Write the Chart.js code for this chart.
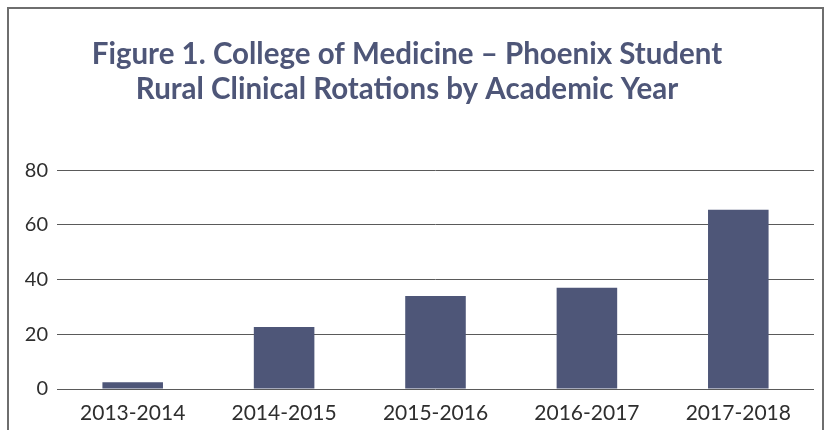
<!DOCTYPE html>
<html>
<head>
<meta charset="utf-8">
<script src="https://cdn.jsdelivr.net/npm/chart.js@4/dist/chart.umd.min.js"></script>
<style>
  html, body { margin: 0; padding: 0; background: #fff; overflow: hidden; }
  #wrap { position: relative; width: 833px; height: 430px; }
  #frame {
    position: absolute; left: 7px; top: 7px; width: 817px; height: 500px;
    border: 2px solid #6e6e6e; border-bottom: none; box-sizing: border-box;
  }
  canvas { position: absolute; left: 0; top: 0; }
</style>
</head>
<body>
<div id="wrap">
  <div id="frame"></div>
  <canvas id="chart" width="833" height="430"></canvas>
</div>
<script>
// === Data ===
const years = ["2013-2014", "2014-2015", "2015-2016", "2016-2017", "2017-2018"];
const rotations = [2.5, 22.7, 34, 37, 65.5];
const yTicks = [0, 20, 40, 60, 80];
const titleLines = ["Figure 1. College of Medicine \u2013 Phoenix Student", "Rural Clinical Rotations by Academic Year"];

const barColor = "#4e5678";
const textColor = "#2e2e2e";

const ctx = document.getElementById("chart").getContext("2d");
new Chart(ctx, {
  type: "bar",
  data: {
    labels: years,
    datasets: [{
      data: rotations,
      backgroundColor: barColor,
      borderWidth: 0,
      categoryPercentage: 1,
      barPercentage: 0.4
    }]
  },
  options: {
    responsive: false,
    animation: false,
    layout: { padding: { left: 0, right: 19, top: 0, bottom: 0 } },
    plugins: {
      legend: { display: false },
      tooltip: { enabled: false },
      title: {
        display: true,
        text: titleLines,
        color: barColor,
        font: { family: "Lato", size: 29.5, weight: "bold", lineHeight: 1.19 },
        padding: { top: 37, bottom: 63 }
      }
    },
    scales: {
      x: {
        grid: { display: false },
        border: { display: false },
        ticks: {
          color: textColor,
          font: { family: "Lato", size: 21 },
          padding: 4,
          maxRotation: 0
        },
        afterFit: (scale) => { scale.height = 41; }
      },
      y: {
        min: 0,
        max: 80,
        afterBuildTicks: (scale) => { scale.ticks = yTicks.map(v => ({ value: v })); },
        grid: { color: "#5a5a5a", lineWidth: 1, drawTicks: false },
        border: { display: false },
        ticks: {
          color: textColor,
          font: { family: "Lato", size: 20 },
          padding: 9
        },
        afterFit: (scale) => { scale.width = 57; }
      }
    }
  }
});
</script>
</body>
</html>
